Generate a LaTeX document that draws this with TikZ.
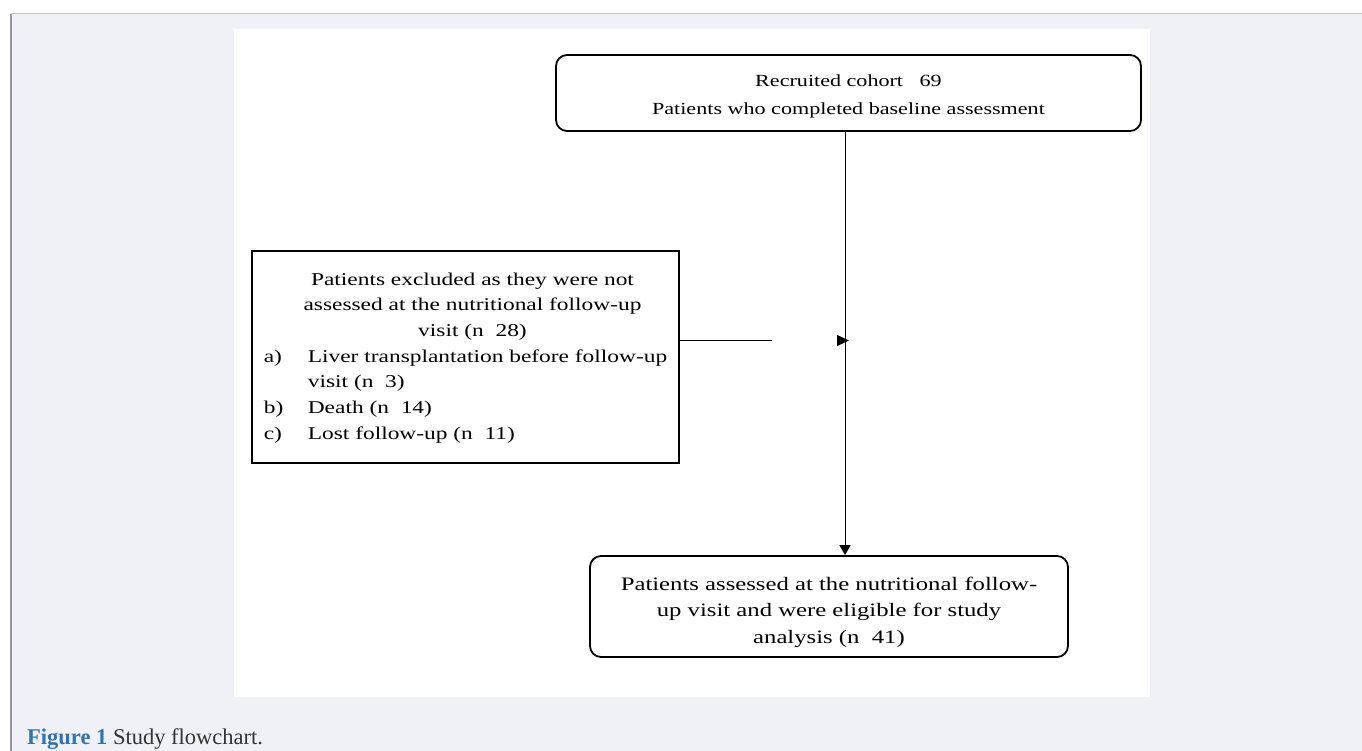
\documentclass[tikz,border=0pt]{standalone}
\usepackage{fontspec}
\setmainfont{Liberation Serif}
\newfontfamily\chartfont[FakeStretch=1.3]{Liberation Serif}
\usetikzlibrary{arrows.meta}
\definecolor{panelgray}{RGB}{240,241,246}
\definecolor{rulegray}{RGB}{196,196,202}
\definecolor{edgegray}{RGB}{150,150,154}
\definecolor{figblue}{RGB}{46,116,181}
\definecolor{captext}{RGB}{51,51,51}

\begin{document}
\begin{tikzpicture}[x=1pt,y=-1pt,
    rbox/.style={draw, line width=1.8pt, rounded corners=11pt, align=center, inner sep=0pt},
    sbox/.style={draw, line width=2.6pt, inner sep=0pt},
    link/.style={line width=1pt}]
    \useasboundingbox (0,0) rectangle (1362,751);

    % page panel and figure area
    \fill[panelgray] (11,14) rectangle (1362,751);
    \draw[rulegray, line width=1pt] (11,14) -- (1362,14);
    \draw[edgegray, line width=1.4pt] (11,14) -- (11,751);
    \fill[white] (234,29) rectangle (1150,697);

    \node[rbox, minimum width=585pt, minimum height=76pt,
          font=\chartfont\fontsize{17}{28}\selectfont] (cohort) at (848.5,93)
        {\rule{0pt}{18pt}Recruited cohort~~~69\\Patients who completed baseline assessment};

    \node[sbox, minimum width=427pt, minimum height=212pt,
          font=\chartfont\fontsize{18}{25.7}\selectfont] (excluded) at (465.5,357)
        {\begin{tabular}{@{}p{44pt}@{}l@{}}
            \multicolumn{2}{@{\hspace{14pt}}c@{}}{Patients excluded as they were not}\\
            \multicolumn{2}{@{\hspace{14pt}}c@{}}{assessed at the nutritional follow-up}\\
            \multicolumn{2}{@{\hspace{14pt}}c@{}}{visit (n~~28)}\\
            a) & Liver transplantation before follow-up\\
               & visit (n~~3)\\
            b) & Death (n~~14)\\
            c) & Lost follow-up (n~~11)
        \end{tabular}};

    \node[rbox, minimum width=478pt, minimum height=101pt,
          font=\chartfont\fontsize{19}{26.5}\selectfont] (eligible) at (829,606.5)
        {\rule{0pt}{25pt}Patients assessed at the nutritional follow-\\up visit and were eligible for study\\analysis (n~~41)};

    \coordinate (split) at (845,340.5);
    \coordinate (stub) at (772,340.5);
    \coordinate (flag) at (837,340.5);
    \coordinate (flagtip) at (849,340.5);

    \draw[link, -{Triangle[length=10pt,width=11pt]}] (cohort.south -| split) -- (eligible.north -| split);
    \draw[link] (excluded.east |- split) -- (stub);
    \draw[link, -{Triangle[length=12pt,width=11pt]}] (flag) -- (flagtip);

    % caption
    \node[anchor=base west, inner sep=0pt, font=\fontsize{22.5}{27}\selectfont] (caption) at (27,744)
        {\textcolor{figblue}{\bfseries Figure 1} \textcolor{captext}{Study flowchart.}};
\end{tikzpicture}
\end{document}
